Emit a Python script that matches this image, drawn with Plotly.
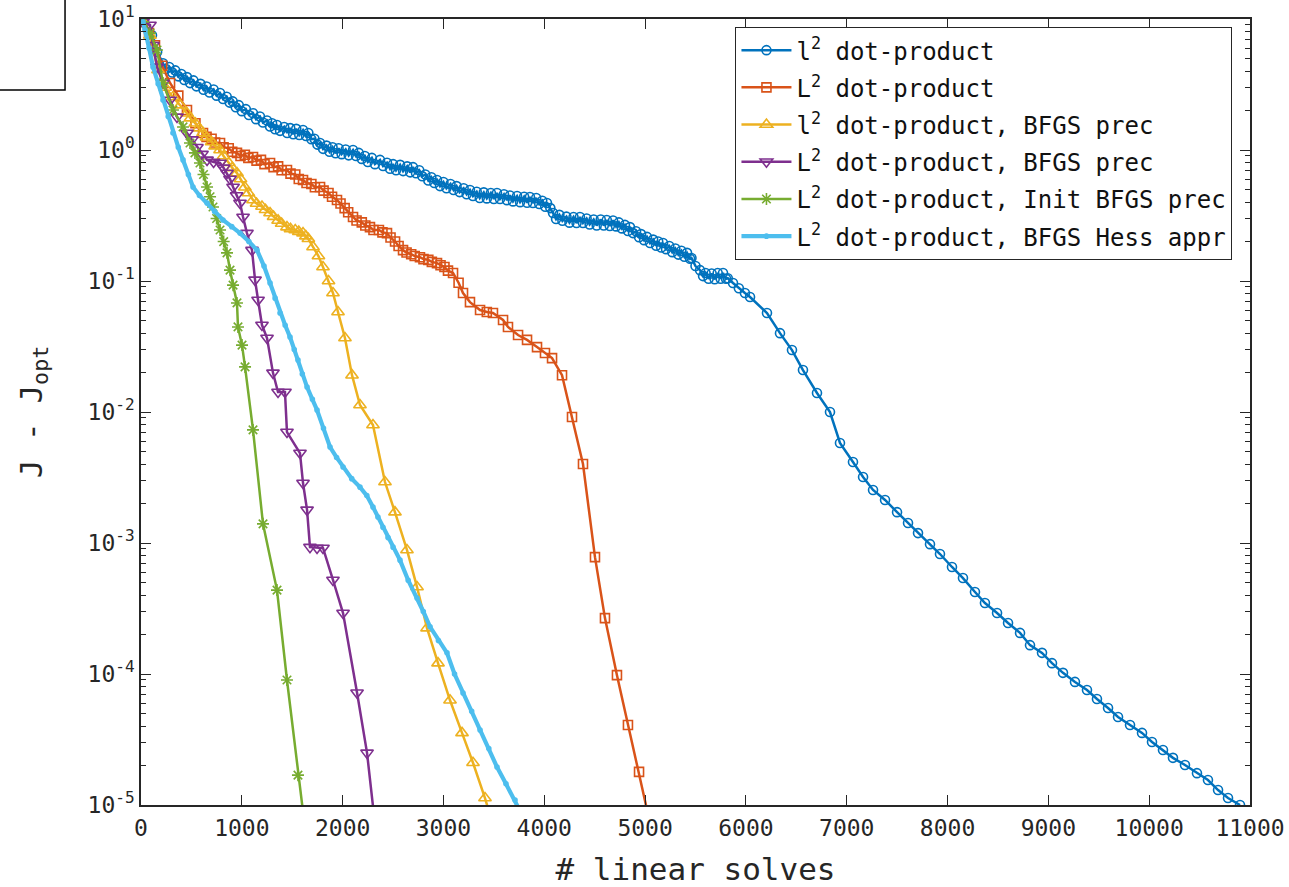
import plotly.graph_objects as go

# ---------------- data ----------------
blue_x = [30, 109, 160, 218, 248, 280, 310, 340, 370, 400, 430, 456, 486, 520, 550, 590, 620, 650, 680,
          720, 750, 784, 814, 850, 880, 910, 940, 970, 1000, 1040, 1070, 1111, 1141, 1180, 1210, 1250,
          1280, 1300, 1330, 1349, 1379, 1420, 1450, 1480, 1510, 1540, 1570, 1607, 1637, 1660, 1690, 1720,
          1750, 1776, 1806, 1840, 1870, 1900, 1930, 1960, 1990, 2030, 2060, 2103, 2133, 2160, 2190, 2220,
          2250, 2290, 2320, 2371, 2401, 2440, 2470, 2500, 2530, 2570, 2600, 2640, 2670, 2698, 2728, 2760,
          2790, 2820, 2850, 2880, 2910, 2936, 2966, 3000, 3030, 3070, 3100, 3130, 3160, 3200, 3230, 3263,
          3293, 3330, 3360, 3400, 3430, 3470, 3500, 3531, 3561, 3600, 3630, 3660, 3690, 3730, 3760, 3800,
          3830, 3858, 3888, 3920, 3950, 3980, 4010, 4027, 4060, 4087, 4117, 4150, 4180, 4220, 4250, 4290,
          4320, 4354, 4384, 4420, 4450, 4490, 4520, 4560, 4590, 4620, 4650, 4682, 4712, 4740, 4770, 4800,
          4830, 4850, 4880, 4910, 4940, 4960, 4990, 5019, 5049, 5080, 5110, 5130, 5160, 5178, 5208, 5240,
          5270, 5300, 5330, 5360, 5390, 5416, 5446, 5460, 5500, 5545, 5575, 5600, 5630, 5660, 5690, 5720,
          5750, 5773, 5803, 5820, 5872, 5930, 5990, 6041, 6209, 6338, 6457, 6566, 6705, 6834, 6933, 7062,
          7162, 7261, 7380, 7499, 7608, 7707, 7826, 7925, 8044, 8153, 8272, 8371, 8491, 8600, 8719,
          8818, 8937, 9036, 9145, 9264, 9383, 9482, 9592, 9691, 9810, 9929, 10028, 10137, 10236,
          10355, 10474, 10583, 10683, 10782, 10901]
blue_y = [9.4, 7.5, 5.6, 4.6, 4.15, 4.3, 3.9, 4.05, 3.65, 3.8, 3.42, 3.6, 3.24, 3.4, 3.06, 3.2, 2.88, 3.05,
          2.75, 2.9, 2.6, 2.72, 2.45, 2.55, 2.3, 2.35, 2.12, 2.2, 1.98, 2.05, 1.85, 1.91, 1.72, 1.8, 1.62,
          1.68, 1.51, 1.6, 1.44, 1.55, 1.4, 1.5, 1.35, 1.47, 1.32, 1.45, 1.3, 1.42, 1.28, 1.35, 1.21, 1.22,
          1.1, 1.13, 1.02, 1.08, 0.97, 1.05, 0.945, 1.03, 0.93, 1.01, 0.91, 1.0, 0.9, 0.95, 0.855, 0.9,
          0.81, 0.87, 0.78, 0.84, 0.755, 0.8, 0.72, 0.78, 0.70, 0.77, 0.69, 0.75, 0.675, 0.74, 0.665, 0.7,
          0.63, 0.65, 0.585, 0.62, 0.56, 0.59, 0.53, 0.57, 0.51, 0.55, 0.495, 0.53, 0.477, 0.51, 0.46, 0.495,
          0.445, 0.48, 0.43, 0.475, 0.427, 0.47, 0.423, 0.47, 0.423, 0.46, 0.414, 0.45, 0.405, 0.445, 0.40,
          0.44, 0.396, 0.438, 0.394, 0.43, 0.387, 0.41, 0.369, 0.394, 0.36, 0.33, 0.297, 0.32, 0.288, 0.31,
          0.279, 0.308, 0.277, 0.308, 0.277, 0.3, 0.27, 0.295, 0.265, 0.295, 0.265, 0.292, 0.263, 0.29,
          0.261, 0.28, 0.252, 0.268, 0.241, 0.258, 0.232, 0.24, 0.216, 0.228, 0.205, 0.217, 0.195, 0.207,
          0.186, 0.2, 0.18, 0.195, 0.175, 0.185, 0.166, 0.177, 0.159, 0.17, 0.153, 0.164, 0.148, 0.15, 0.13,
          0.121, 0.109, 0.115, 0.104, 0.114, 0.103, 0.115, 0.104, 0.115, 0.104, 0.105, 0.0966, 0.088, 0.081,
          0.0755, 0.057, 0.040, 0.0297, 0.0209, 0.01397, 0.0100, 0.0058, 0.00415, 0.00319, 0.00254,
          0.00213, 0.00172, 0.00142, 0.00119, 0.00098, 0.000824, 0.000656, 0.00054, 0.000423, 0.000348,
          0.000292, 0.000245, 0.000206, 0.000166, 0.000145, 0.000121, 0.000102, 8.7e-5, 7.55e-5, 6.44e-5,
          5.5e-5, 4.7e-5, 4.08e-5, 3.55e-5, 3.03e-5, 2.63e-5, 2.29e-5, 2.02e-5, 1.75e-5, 1.55e-5, 1.30e-5,
          1.13e-5, 1.0e-5]

red_x = [20, 80, 139, 210, 288, 370, 456, 540, 615, 650, 700, 735, 784, 819, 870, 905, 952, 987, 1030, 1065,
         1111, 1146, 1190, 1225, 1280, 1315, 1360, 1395, 1448, 1483, 1530, 1565, 1607, 1642, 1690, 1725,
         1776, 1811, 1860, 1895, 1944, 1979, 2020, 2055, 2103, 2138, 2190, 2225, 2271, 2306, 2360, 2395,
         2440, 2475, 2520, 2555, 2599, 2634, 2680, 2715, 2767, 2802, 2850, 2885, 2936, 2971, 3010, 3045,
         3095, 3150, 3194, 3263, 3363, 3430, 3491, 3591, 3640, 3740, 3829, 3928, 4007, 4077, 4176, 4275,
         4384, 4503, 4602, 4721, 4830, 4940, 5040]
red_y = [9.5, 7.8, 6.3, 4.4, 3.25, 2.6, 2.02, 1.6, 1.35, 1.26, 1.22, 1.14, 1.13, 1.05, 1.03, 0.97, 0.95, 0.9,
         0.92, 0.87, 0.885, 0.83, 0.84, 0.78, 0.796, 0.74, 0.75, 0.70, 0.703, 0.66, 0.65, 0.6, 0.59, 0.56,
         0.55, 0.52, 0.522, 0.49, 0.47, 0.44, 0.415, 0.39, 0.36, 0.335, 0.308, 0.29, 0.28, 0.265, 0.258,
         0.245, 0.245, 0.235, 0.232, 0.215, 0.2, 0.185, 0.172, 0.165, 0.16, 0.155, 0.152, 0.147, 0.145,
         0.14, 0.137, 0.132, 0.128, 0.12, 0.115, 0.097, 0.081, 0.069, 0.060, 0.058, 0.057, 0.0504, 0.0446,
         0.0387, 0.0355, 0.0313, 0.0282, 0.0258, 0.0191, 0.00916, 0.00401, 0.00078, 0.000267, 9.8e-5,
         4.08e-5, 1.79e-5, 7.8e-6]

yellow_x = [20, 89, 169, 240, 317, 390, 456, 490, 540, 575, 615, 650, 700, 735, 784, 819, 870, 905, 952, 987,
            1030, 1065, 1111, 1146, 1200, 1235, 1280, 1315, 1360, 1395, 1448, 1483, 1530, 1565, 1607, 1635,
            1660, 1706, 1760, 1805, 1860, 1904, 1954, 2023, 2093, 2172, 2301, 2420, 2519, 2638, 2738, 2837,
            2946, 3065, 3184, 3293, 3412, 3480]
yellow_y = [9.5, 7.5, 4.08, 3.0, 2.54, 2.2, 1.91, 1.75, 1.6, 1.47, 1.35, 1.25, 1.15, 1.07, 1.0, 0.9, 0.8,
            0.73, 0.667, 0.6, 0.52, 0.47, 0.415, 0.39, 0.37, 0.35, 0.33, 0.31, 0.29, 0.275, 0.258, 0.25,
            0.245, 0.238, 0.232, 0.22, 0.21, 0.182, 0.155, 0.128, 0.1, 0.081, 0.058, 0.0367, 0.0191, 0.0113,
            0.00796, 0.00292, 0.00172, 0.000885, 0.000461, 0.000224, 0.000121, 6.3e-5, 3.55e-5, 2.1e-5,
            1.13e-5, 7.5e-6]

purple_x = [20, 89, 119, 159, 218, 288, 357, 456, 505, 555, 605, 655, 720, 784, 820, 853, 883, 913, 948, 982,
            1012, 1051, 1101, 1131, 1161, 1200, 1250, 1309, 1359, 1428, 1448, 1577, 1607, 1647, 1676, 1746,
            1805, 1904, 2004, 2143, 2242, 2310]
purple_y = [9.5, 9.0, 6.3, 4.31, 3.25, 2.41, 1.79, 1.35, 1.2, 1.05, 0.93, 0.84, 0.81, 0.796, 0.73, 0.667,
            0.6, 0.522, 0.45, 0.394, 0.308, 0.232, 0.172, 0.102, 0.0716, 0.0461, 0.0367, 0.0199, 0.0142,
            0.0142, 0.00703, 0.00486, 0.00287, 0.00179, 0.00093, 0.000916, 0.000916, 0.000522, 0.000292,
            7.2e-5, 2.5e-5, 8.5e-6]

green_x = [20, 89, 159, 218, 317, 417, 486, 535, 585, 620, 655, 685, 714, 750, 784, 820, 853, 883, 913, 952,
           962, 1002, 1032, 1111, 1210, 1349, 1448, 1557, 1610]
green_y = [9.5, 7.8, 5.8, 3.25, 2.02, 1.5, 1.13, 0.95, 0.796, 0.65, 0.522, 0.44, 0.367, 0.3, 0.245, 0.2,
           0.164, 0.121, 0.093, 0.068, 0.0446, 0.0324, 0.0221, 0.0073, 0.0014, 0.000437, 9.0e-5, 1.69e-5,
           8.5e-6]

cyan_x = [20, 40, 80, 119, 170, 218, 270, 317, 370, 417, 470, 516, 580, 655, 730, 813, 900, 982, 1070, 1151,
          1220, 1280, 1330, 1379, 1430, 1478, 1520, 1557, 1600, 1647, 1700, 1746, 1810, 1875, 1940, 2004,
          2090, 2172, 2240, 2301, 2350, 2400, 2450, 2500, 2569, 2650, 2738, 2800, 2867, 2950, 3035, 3110,
          3194, 3280, 3363, 3450, 3531, 3620, 3710, 3750]
cyan_y = [9.5, 8.25, 6.0, 4.31, 3.2, 2.41, 1.8, 1.35, 1.05, 0.84, 0.65, 0.522, 0.45, 0.394, 0.34, 0.292, 0.26,
          0.232, 0.2, 0.172, 0.13, 0.0966, 0.074, 0.057, 0.046, 0.0374, 0.03, 0.0249, 0.0195, 0.0155, 0.0125,
          0.01035, 0.0075, 0.0054, 0.0045, 0.0038, 0.0031, 0.00267, 0.0023, 0.00188, 0.00158, 0.00132,
          0.0011, 0.00093, 0.00074, 0.00052, 0.00038, 0.0003, 0.000229, 0.00018, 0.000145, 0.0001,
          7.16e-5, 5.2e-5, 3.74e-5, 2.7e-5, 1.95e-5, 1.45e-5, 1.09e-5, 9.3e-6]

names = ["l<sup>2</sup> dot-product",
         "L<sup>2</sup> dot-product",
         "l<sup>2</sup> dot-product, BFGS prec",
         "L<sup>2</sup> dot-product, BFGS prec",
         "L<sup>2</sup> dot-product, Init BFGS prec",
         "L<sup>2</sup> dot-product, BFGS Hess appr"]

x_ticks = [0, 1000, 2000, 3000, 4000, 5000, 6000, 7000, 8000, 9000, 10000, 11000]
y_exps = [-5, -4, -3, -2, -1, 0, 1]

# ---------------- figure ----------------
FONT = "DejaVu Sans Mono"
AX = "#262626"

series = [
    (blue_x, blue_y, "#0072BD", "circle-open", 9, 2.5),
    (red_x, red_y, "#D95319", "square-open", 9, 2.5),
    (yellow_x, yellow_y, "#EDB120", "triangle-up-open", 11, 2.5),
    (purple_x, purple_y, "#7E2F8E", "triangle-down-open", 11, 2.5),
    (green_x, green_y, "#77AC30", "asterisk-open", 10, 2.5),
    (cyan_x, cyan_y, "#4DBEEE", "circle", 4, 4.2),
]

fig = go.Figure()
for i, ((xs, ys, col, sym, sz, lw), nm) in enumerate(zip(series, names)):
    fig.add_trace(go.Scatter(
        x=xs, y=ys, name=nm, mode="lines+markers", legendgroup="g%d" % i,
        line=dict(color=col, width=lw),
        marker=dict(symbol=sym, size=sz, color=col, line=dict(color=col, width=1.6)),
    ))

minor_vals = [k * 10.0 ** e for e in range(-5, 1) for k in range(2, 10)]

fig.update_layout(
    width=1289, height=887, autosize=False,
    margin=dict(l=141, r=39, t=19, b=82),
    paper_bgcolor="white", plot_bgcolor="white",
    font=dict(family=FONT, color=AX, size=23),
    showlegend=True,
    legend=dict(
        x=0.984, y=0.990, xanchor="right", yanchor="top",
        bgcolor="white", bordercolor=AX, borderwidth=1.2,
        font=dict(family=FONT, size=24, color="#111111"),
        tracegroupgap=3, itemwidth=50,
    ),
    xaxis=dict(
        range=[0, 11000], tickvals=x_ticks, ticktext=[str(v) for v in x_ticks],
        ticks="inside", ticklen=10, tickwidth=1.3, tickcolor=AX,
        showline=True, linecolor=AX, linewidth=1.5, mirror="allticks",
        showgrid=False, zeroline=False, ticklabelstandoff=2, automargin=False,
        tickfont=dict(family=FONT, size=23, color=AX),
        title=dict(text="# linear solves", font=dict(family=FONT, size=31, color=AX), standoff=25),
    ),
    yaxis=dict(
        type="log", range=[-5, 1],
        tickvals=[10.0 ** e for e in y_exps],
        ticktext=["10<sup>%d</sup>" % e for e in y_exps],
        ticks="inside", ticklen=10, tickwidth=1.3, tickcolor=AX,
        minor=dict(tickmode="array", tickvals=minor_vals, ticks="inside", ticklen=5,
                   tickwidth=1.2, tickcolor=AX, showgrid=False),
        showline=True, linecolor=AX, linewidth=1.5, mirror="allticks",
        showgrid=False, zeroline=False, automargin=False,
        tickfont=dict(family=FONT, size=23, color=AX),
        title=dict(text="J - J<sub>opt</sub>", font=dict(family=FONT, size=31, color=AX), standoff=36),
    ),
    shapes=[dict(type="rect", xref="paper", yref="paper",
                 x0=-0.3, x1=-0.0685, y0=0.9097, y1=1.2,
                 line=dict(color="black", width=1.5), fillcolor="rgba(0,0,0,0)")],
)

fig.write_html("out.html")
